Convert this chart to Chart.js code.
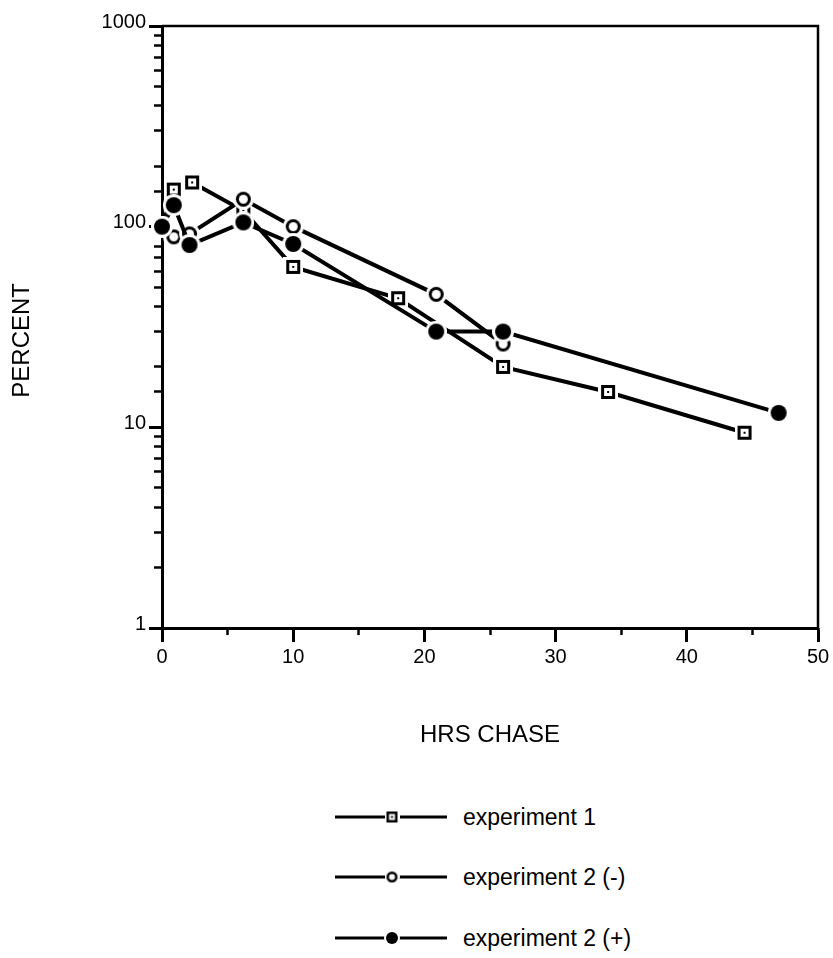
<!DOCTYPE html>
<html>
<head>
<meta charset="utf-8">
<title>Percent remaining vs hrs chase</title>
<script src="https://cdn.jsdelivr.net/npm/chart.js@4.4.1/dist/chart.umd.min.js"></script>
<style>
  html, body { margin: 0; padding: 0; background: #fff; }
  body { width: 833px; height: 958px; position: relative; overflow: hidden; font-family: 'Liberation Sans', Arial, sans-serif; }
  #chaseChart { position: absolute; left: 0; top: 0; }
  .legend-row { position: absolute; left: 335px; height: 28px; display: flex; align-items: center; }
  .legend-row canvas { display: block; }
  .legend-row span { margin-left: 16px; font-size: 23px; color: #000; white-space: nowrap; }
</style>
</head>
<body>
<canvas id="chaseChart" width="833" height="750"></canvas>
<div id="legend"></div>
<script>
// ===== Data =====
const exp1Hours = [0, 0.9, 2.3, 6.2, 10, 18, 26, 34, 44.4];
const exp1Percent = [100, 153, 166, 120, 63, 44, 20, 15, 9.4];

const exp2MinusHours = [0, 0.9, 2.1, 6.2, 10, 20.9, 26];
const exp2MinusPercent = [100, 89, 92, 137, 100, 46, 26];

const exp2PlusHours = [0, 0.9, 2.1, 6.2, 10, 20.9, 26, 47];
const exp2PlusPercent = [100, 128, 81, 105, 82, 30, 30, 11.8];

const seriesLabels = ['experiment 1', 'experiment 2 (-)', 'experiment 2 (+)'];
const xTickStep = 10;
const xMinorStep = 5;

const FONT = "'Liberation Sans', Arial, sans-serif";

// ===== Marker images =====
function makeMarker(kind, size, halo, border) {
  const c = document.createElement('canvas');
  const full = Math.ceil(size + halo * 2);
  c.width = c.height = full;
  const ctx = c.getContext('2d');
  const m = full / 2;
  if (kind === 'square') {
    ctx.fillStyle = '#fff';
    ctx.fillRect(0, 0, full, full);
    ctx.fillStyle = '#000';
    ctx.fillRect(m - size / 2, m - size / 2, size, size);
    const inner = size - border * 2;
    ctx.fillStyle = '#fff';
    ctx.fillRect(m - inner / 2, m - inner / 2, inner, inner);
    ctx.fillStyle = '#000';
    ctx.fillRect(m - 1, m - 1, 2, 2);
  } else {
    ctx.fillStyle = '#fff';
    ctx.beginPath();
    ctx.arc(m, m, full / 2, 0, Math.PI * 2);
    ctx.fill();
    ctx.fillStyle = '#000';
    ctx.beginPath();
    ctx.arc(m, m, size / 2, 0, Math.PI * 2);
    ctx.fill();
    if (kind === 'open') {
      ctx.fillStyle = '#fff';
      ctx.beginPath();
      ctx.arc(m, m, size / 2 - border, 0, Math.PI * 2);
      ctx.fill();
    }
  }
  return c;
}

const markers = [
  makeMarker('square', 14, 3, 3),
  makeMarker('open', 15, 3, 3),
  makeMarker('filled', 16, 3, 0)
];
const legendMarkers = [
  makeMarker('square', 11, 2, 2.5),
  makeMarker('open', 11, 2, 2.5),
  makeMarker('filled', 12, 2, 0)
];

function toPoints(xs, ys) {
  return xs.map((x, i) => ({ x: x, y: ys[i] }));
}

function lineSet(label, xs, ys, marker, order) {
  return {
    label: label,
    data: toPoints(xs, ys),
    borderColor: '#000',
    backgroundColor: '#000',
    borderWidth: 4,
    tension: 0,
    pointStyle: marker,
    pointRadius: 8,
    pointHoverRadius: 8,
    clip: false,
    order: order
  };
}

// ===== Frame (top and right edges of the box) =====
const framePlugin = {
  id: 'frame',
  beforeDatasetsDraw(chart) {
    const { ctx, chartArea: a } = chart;
    ctx.save();
    ctx.strokeStyle = '#000';
    ctx.lineWidth = 2.5;
    ctx.beginPath();
    ctx.moveTo(a.left, a.top);
    ctx.lineTo(a.right, a.top);
    ctx.lineTo(a.right, a.bottom);
    ctx.stroke();
    ctx.restore();
  }
};

const isPow10 = v => Math.abs(Math.log10(v) - Math.round(Math.log10(v))) < 1e-9;

// ===== Chart =====
const ctx = document.getElementById('chaseChart').getContext('2d');
const chaseChart = new Chart(ctx, {
  type: 'line',
  data: {
    datasets: [
      lineSet(seriesLabels[0], exp1Hours, exp1Percent, markers[0], 3),
      lineSet(seriesLabels[1], exp2MinusHours, exp2MinusPercent, markers[1], 2),
      lineSet(seriesLabels[2], exp2PlusHours, exp2PlusPercent, markers[2], 1)
    ]
  },
  options: {
    responsive: false,
    animation: false,
    events: [],
    layout: { padding: { left: 8, right: 15, top: 26, bottom: 0 } },
    plugins: {
      legend: { display: false },
      tooltip: { enabled: false }
    },
    scales: {
      x: {
        type: 'linear',
        position: 'bottom',
        min: 0,
        max: 50,
        ticks: {
          stepSize: xTickStep,
          color: '#000',
          padding: 3,
          maxRotation: 0,
          font: { family: FONT, size: 20 }
        },
        grid: { drawOnChartArea: false, tickLength: 14, tickWidth: 3, tickColor: '#000' },
        border: { color: '#000', width: 3 },
        title: { display: true, text: 'HRS CHASE', color: '#000', padding: 0, font: { family: FONT, size: 24 } },
        afterFit: s => { s.height = 122; }
      },
      xMinor: {
        type: 'linear',
        position: 'bottom',
        weight: -1,
        min: 0,
        max: 50,
        ticks: { stepSize: xMinorStep, display: false },
        grid: { drawOnChartArea: false, tickLength: 7, tickWidth: 2.5, tickColor: '#000' },
        border: { display: false },
        afterFit: s => { s.height = 0; }
      },
      y: {
        type: 'logarithmic',
        position: 'left',
        min: 1,
        max: 1000,
        afterBuildTicks: s => { s.ticks = s.ticks.filter(t => isPow10(t.value)); },
        ticks: {
          color: '#000',
          padding: 3,
          labelOffset: -4,
          font: { family: FONT, size: 20 },
          callback: v => String(v)
        },
        grid: { drawOnChartArea: false, tickLength: 13, tickWidth: 3, tickColor: '#000' },
        border: { color: '#000', width: 3 },
        // trailing spaces nudge the rotated title down, as in the original
        title: { display: true, text: 'PERCENT    ', color: '#000', padding: 0, font: { family: FONT, size: 24 } },
        afterFit: s => { s.width = 154; }
      },
      yMinor: {
        type: 'logarithmic',
        position: 'left',
        weight: -1,
        min: 1,
        max: 1000,
        ticks: { display: false },
        grid: { drawOnChartArea: false, tickLength: 8, tickWidth: 2.5, tickColor: '#000' },
        border: { display: false },
        afterFit: s => { s.width = 0; }
      }
    }
  },
  plugins: [framePlugin]
});

// ===== Legend (HTML, line + marker sample) =====
const legendEl = document.getElementById('legend');
const legendTops = [803, 863, 924];
seriesLabels.forEach((label, i) => {
  const row = document.createElement('div');
  row.className = 'legend-row';
  row.style.top = legendTops[i] + 'px';
  const sample = document.createElement('canvas');
  sample.width = 112;
  sample.height = 24;
  const sctx = sample.getContext('2d');
  sctx.strokeStyle = '#000';
  sctx.lineWidth = 3;
  sctx.beginPath();
  sctx.moveTo(0, 12);
  sctx.lineTo(112, 12);
  sctx.stroke();
  const mk = legendMarkers[i];
  sctx.drawImage(mk, 57 - mk.width / 2, 12 - mk.height / 2);
  const text = document.createElement('span');
  text.textContent = label;
  row.appendChild(sample);
  row.appendChild(text);
  legendEl.appendChild(row);
});
</script>
</body>
</html>
